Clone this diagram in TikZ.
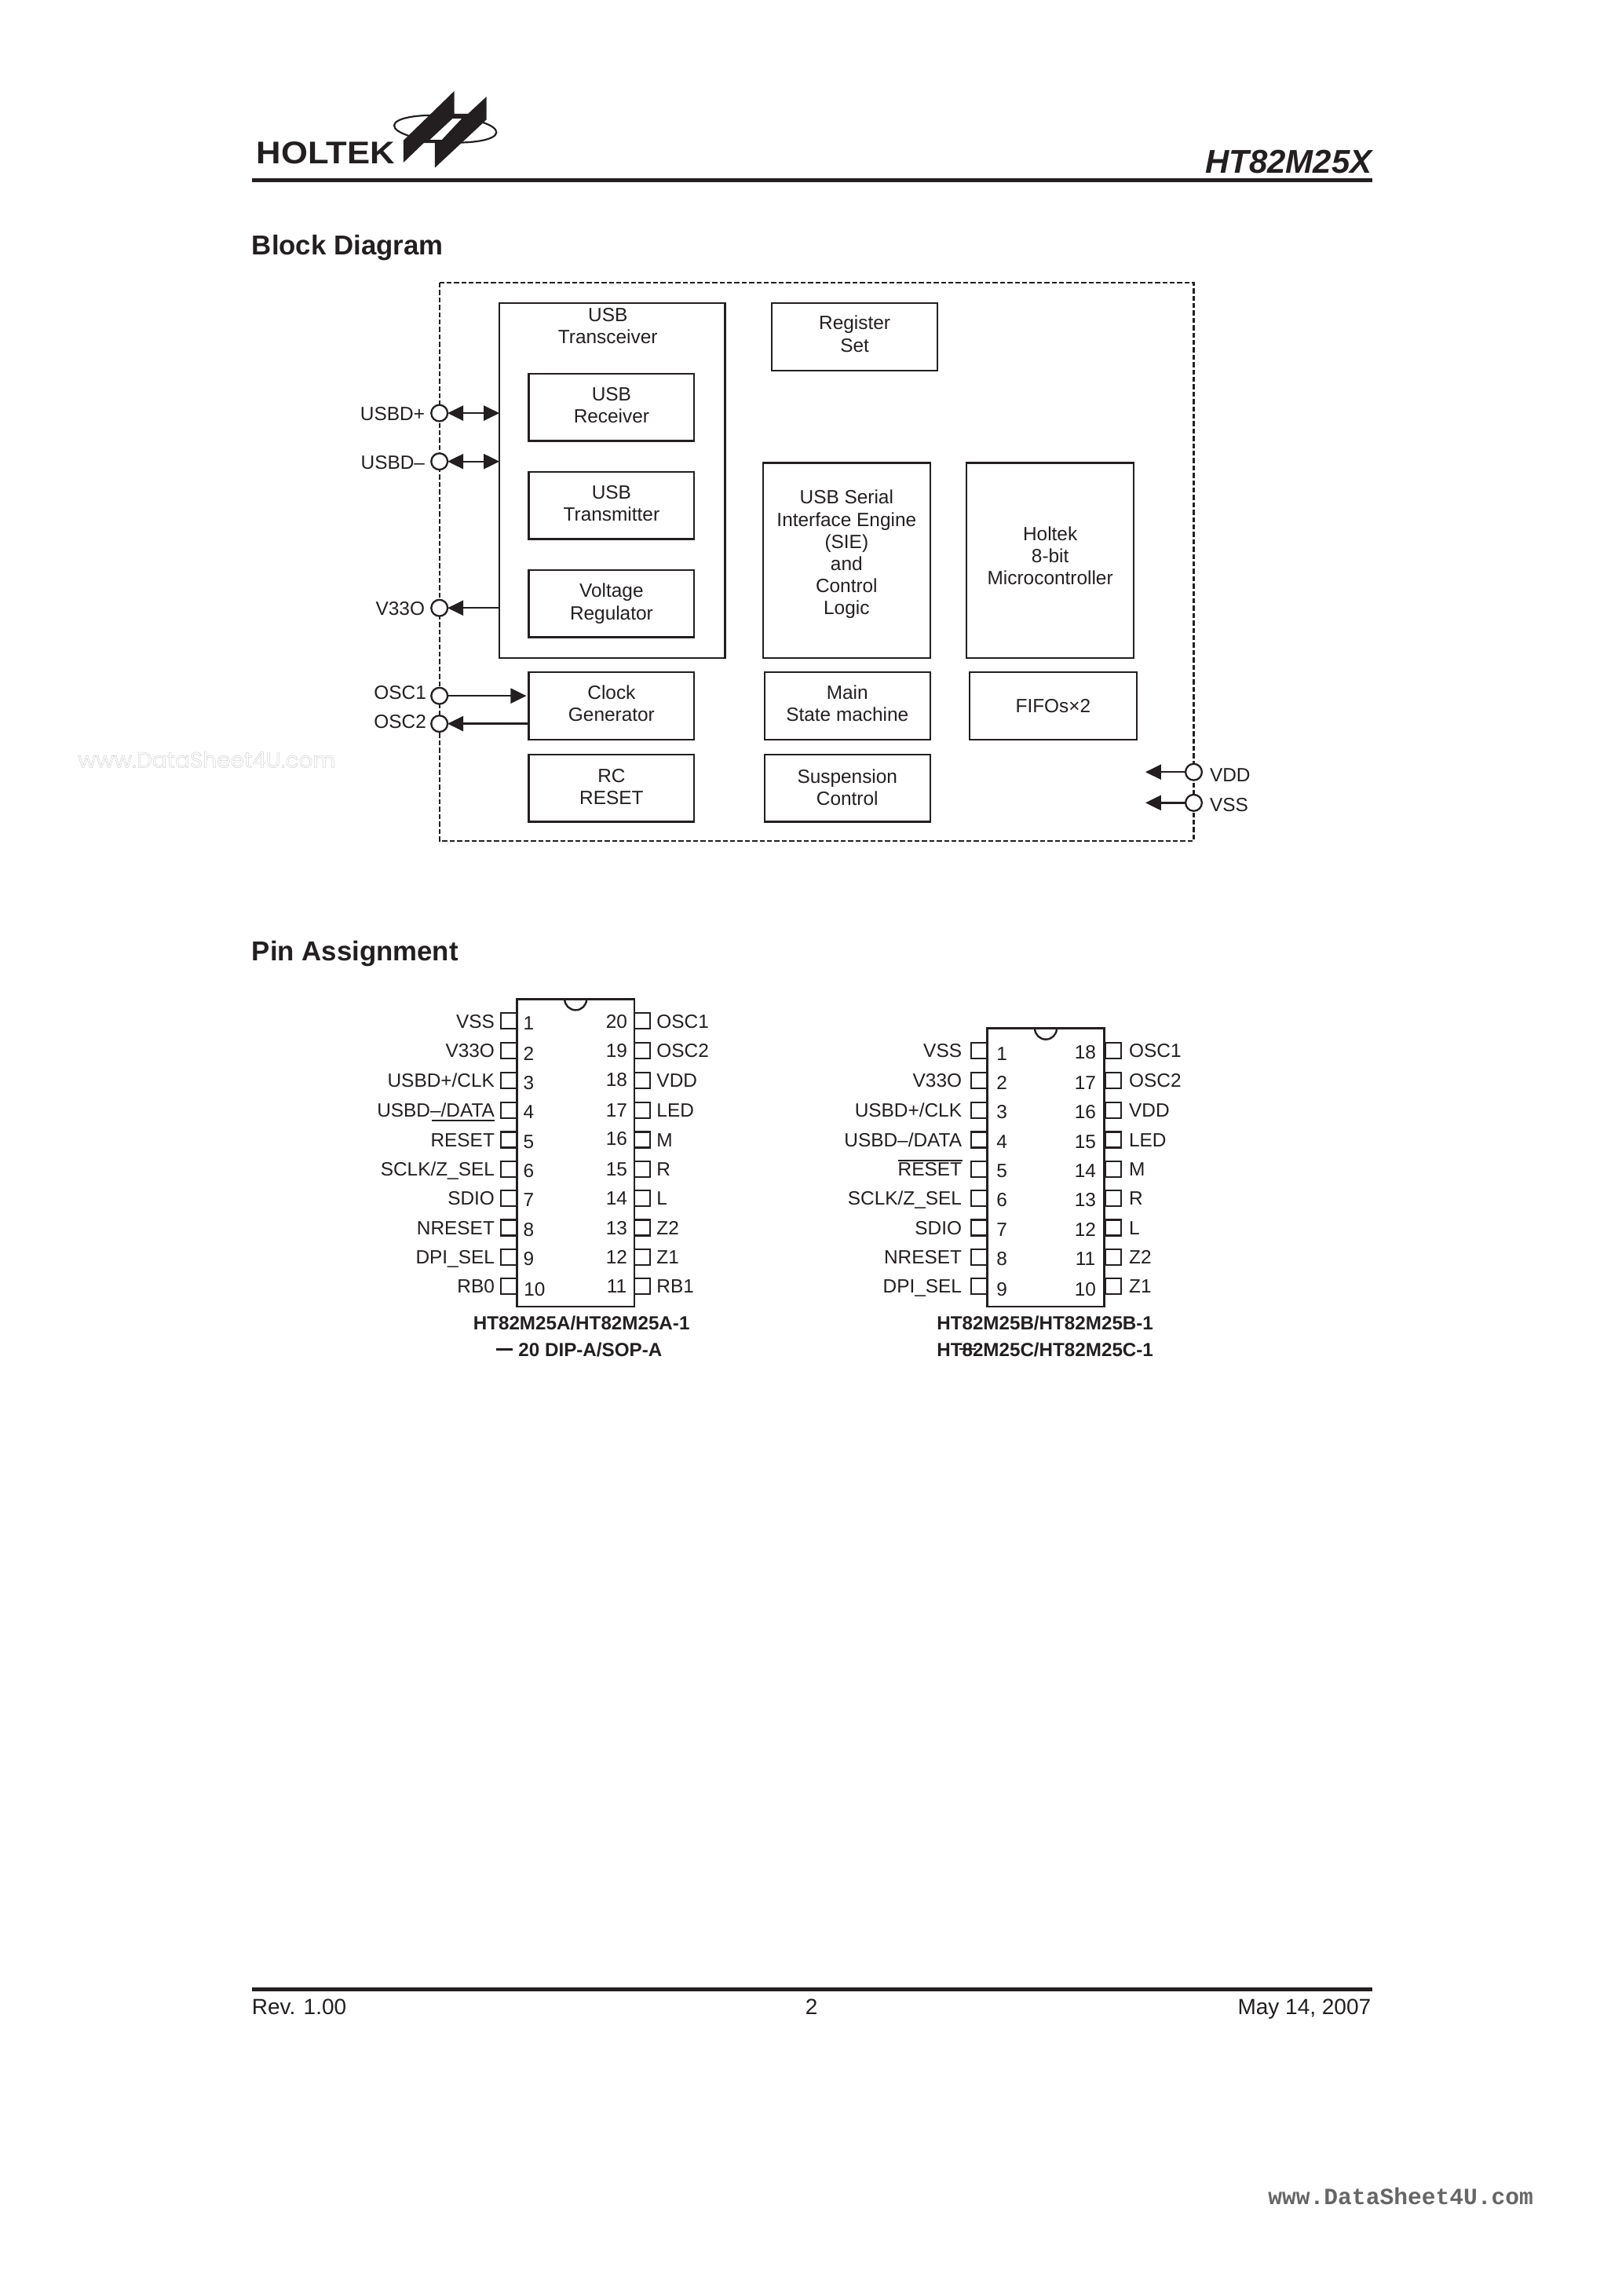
\documentclass[tikz,border=0pt]{standalone}
\usepackage{fontspec}
\setmainfont{Liberation Sans}
\newfontfamily\wmfont{Poppins}
\newfontfamily\wmmono{Liberation Mono}
\newfontfamily\logofont[FakeStretch=1.09]{Liberation Sans}
\usetikzlibrary{arrows.meta,calc}
\definecolor{ink}{HTML}{231F20}
\newlength{\boxw}\newlength{\boxh}
% \blk[text shift]{name}{x1}{y1}{x2}{y2}{text}
\newcommand{\blk}[6][0]{%
  \pgfmathsetlength{\boxw}{(#5-#3)*0.9328pt}%
  \pgfmathsetlength{\boxh}{(#6-#4)*0.9328pt}%
  \node[blockbox,minimum width=\boxw,minimum height=\boxh] (#2) at ({(#3+#5)/2},{(#4+#6)/2}) {};}
\newcommand{\blktxt}[3][0]{\node[blocktext] (#2t) at ($(#2.center)+(0,#1)$) {#3};}
\newcommand{\labgap}{4.5}
\newcommand{\pinL}[4]{% name, centre x, y, text
  \node[pinbox] (#1) at (#2,#3) {};
  \node[lbl,anchor=east] (#1t) at ($(#1.west)+(-\labgap,0)$) {#4};}
\newcommand{\pinR}[4]{%
  \node[pinbox] (#1) at (#2,#3) {};
  \node[lbl,anchor=west] (#1t) at ($(#1.east)+(\labgap,0)$) {#4};}
\tikzset{
  x=0.9328pt,y=-0.9328pt,
  every node/.style={text=ink},
  blockbox/.style={draw=ink,line width=1.15pt,inner sep=0pt,outer sep=0pt},
  blocktext/.style={inner sep=0pt,outer sep=0pt,align=center,font=\fontsize{12.2pt}{14.1pt}\selectfont},
  lbl/.style={inner sep=0pt,outer sep=0pt,text height=8.8pt,text depth=0pt,font=\fontsize{12.2pt}{14.1pt}\selectfont},
  numlbl/.style={inner sep=0pt,outer sep=0pt,text height=8.8pt,text depth=0pt,font=\fontsize{12.2pt}{14.1pt}\selectfont},
  captxt/.style={inner sep=0pt,outer sep=0pt,text height=8.8pt,text depth=0pt,font=\bfseries\fontsize{12.1pt}{14.1pt}\selectfont},
  hdg/.style={inner sep=0pt,outer sep=0pt,anchor=base west,font=\bfseries\fontsize{17.4pt}{20pt}\selectfont},
  foot/.style={inner sep=0pt,outer sep=0pt,anchor=base,font=\fontsize{14pt}{16pt}\selectfont},
  pincirc/.style={circle,draw=ink,fill=white,line width=1.15pt,minimum size=10.4pt,inner sep=0pt,outer sep=0pt},
  pinbox/.style={rectangle,draw=ink,line width=1.1pt,minimum size=10pt,inner sep=0pt,outer sep=0pt},
  conn/.style={draw=ink,line width=1.15pt},
  hrule/.style={draw=ink,line width=2.7pt},
  dblhead/.style={{Triangle[length=10pt,width=9.5pt]}-{Triangle[length=10pt,width=9.5pt]}},
  onehead/.style={-{Triangle[length=10pt,width=9.5pt]}},
}
\begin{document}
\begin{tikzpicture}
\useasboundingbox (0,0) rectangle (1107.4,1567.3);
% ---------- header
\coordinate (hrL) at (172,123);
\coordinate (hrR) at (937,123);
\draw[hrule] (hrL) -- (hrR);
\draw[ink,line width=1.1pt,rotate around={-4:(304,88)}] (304,88) ellipse [x radius=35,y radius=9];
\fill[ink,even odd rule]
  (310.2,62.1) -- (310.2,77.7) -- (319.5,77.7) -- (332.1,66) -- (332.1,81.7) -- (296.9,114.5)
  -- (296.9,97.6) -- (289.3,97.6) -- (275.5,110.9) -- (275.5,95.8) -- cycle
  (309.1,80.8) -- (315.4,80.8) -- (301.6,95.5) -- (293.3,95.5) -- cycle;
\node[inner sep=0pt,anchor=base west,font=\logofont\bfseries\fontsize{20pt}{24pt}\selectfont] (logo) at (175,112) {HOLTEK};
\node[inner sep=0pt,anchor=base east,font=\bfseries\itshape\fontsize{21pt}{24pt}\selectfont] (part) at (937,118) {HT82M25X};
\node[hdg] (h1) at (172,174) {Block Diagram};
\node[hdg] (h2) at (172,656) {Pin Assignment};
% ---------- block diagram
\coordinate (oTL) at (300,193);
\coordinate (oBR) at (815,574);
\draw[ink,line width=1.1pt,dash pattern=on 3.2pt off 1.5pt] (oTL) rectangle (oBR);
\blk{tr}{341}{207}{495}{449}
\node[blocktext,anchor=north] (trt) at (415,210.5) {USB\\Transceiver};
\blk{reg}{527}{207}{640}{253}  \blktxt[-2]{reg}{Register\\Set}
\blk{rx}{361}{255}{474}{301}   \blktxt[-1.2]{rx}{USB\\Receiver}
\blk{tx}{361}{322}{474}{368}   \blktxt[-1.2]{tx}{USB\\Transmitter}
\blk{vr}{361}{389}{474}{435}   \blktxt{vr}{Voltage\\Regulator}
\blk{sie}{521}{316}{635}{449}  \blktxt[-4]{sie}{USB Serial\\Interface Engine\\(SIE)\\and\\Control\\Logic}
\blk{mcu}{660}{316}{774}{449}  \blktxt[-3]{mcu}{Holtek\\8-bit\\Microcontroller}
\blk{clk}{361}{459}{474}{505}  \blktxt[-2]{clk}{Clock\\Generator}
\blk{fsm}{522}{459}{635}{505}  \blktxt[-2]{fsm}{Main\\State machine}
\blk{fifo}{662}{459}{776}{505} \blktxt{fifo}{FIFOs×2}
\blk{rc}{361}{515}{474}{561}   \blktxt[-1]{rc}{RC\\RESET}
\blk{sus}{522}{515}{635}{561}  \blktxt[-0.5]{sus}{Suspension\\Control}
\node[pincirc] (pDP) at (300,282) {};
\node[pincirc] (pDM) at (300,315) {};
\node[pincirc] (pV33) at (300,415) {};
\node[pincirc] (pO1) at (300,475) {};
\node[pincirc] (pO2) at (300,494) {};
\node[pincirc] (pVDD) at (815,527) {};
\node[pincirc] (pVSS) at (815,548) {};
\coordinate (endVDD) at (782,527);
\coordinate (endVSS) at (782,548);
\node[lbl,anchor=east] (lDP) at (290,282.5) {USBD+};
\node[lbl,anchor=east] (lDM) at (290,315.5) {USBD–};
\node[lbl,anchor=east] (lV33) at (290,415.5) {V33O};
\node[lbl,anchor=east] (lO1) at (291,472.5) {OSC1};
\node[lbl,anchor=east] (lO2) at (291,492.5) {OSC2};
\node[lbl,anchor=west] (lVDD) at (826,529) {VDD};
\node[lbl,anchor=west] (lVSS) at (826,549) {VSS};
\draw[conn,dblhead] (pDP) -- (pDP -| tr.west);
\draw[conn,dblhead] (pDM) -- (pDM -| tr.west);
\draw[conn,onehead] (pV33 -| tr.west) -- (pV33);
\draw[conn,onehead,shorten >=1.5pt] (pO1) -- (pO1 -| clk.west);
\draw[conn,onehead] (pO2 -| clk.west) -- (pO2);
\draw[conn,onehead] (pVDD) -- (endVDD);
\draw[conn,onehead] (pVSS) -- (endVSS);
% ---------- chip A
\pinL{aL1}{347.5}{697}{VSS}
\pinL{aL2}{347.5}{717}{V33O}
\pinL{aL3}{347.5}{737.5}{USBD+/CLK}
\pinL{aL4}{347.5}{758}{USBD–/DATA}
\pinL{aL5}{347.5}{778}{RESET}
\pinL{aL6}{347.5}{798}{SCLK/Z\_SEL}
\pinL{aL7}{347.5}{818}{SDIO}
\pinL{aL8}{347.5}{838}{NRESET}
\pinL{aL9}{347.5}{858}{DPI\_SEL}
\pinL{aL10}{347.5}{878}{RB0}
\pinR{aR20}{438.5}{697}{OSC1}
\pinR{aR19}{438.5}{717}{OSC2}
\pinR{aR18}{438.5}{737.5}{VDD}
\pinR{aR17}{438.5}{758}{LED}
\pinR{aR16}{438.5}{778}{M}
\pinR{aR15}{438.5}{798}{R}
\pinR{aR14}{438.5}{818}{L}
\pinR{aR13}{438.5}{838}{Z2}
\pinR{aR12}{438.5}{858}{Z1}
\pinR{aR11}{438.5}{878}{RB1}
\coordinate (aTL) at (353,682);
\coordinate (aBR) at (433,892);
\draw[ink,line width=1.3pt,fill=white] (aTL) rectangle (aBR);
\draw[ink,line width=1.2pt] (385.5,682) arc[start angle=180,end angle=0,radius=7.5];
\foreach \n/\xx/\yy in {1/361/698,2/361/719,3/361/739,4/361/759,5/361/779,6/361/799,7/361/819,8/361/839,9/361/859,10/365/880,
  20/421/697,19/421/717,18/421/737,17/421/758,16/421/777,15/421/798,14/421/818,13/421/838,12/421/858,11/421/878}
  \node[numlbl] (aN\n) at (\xx,\yy) {\n};
\draw[ink,line width=1.1pt] (295,765) -- (337.5,765);
\node[captxt] (capA1) at (397,903) {HT82M25A/HT82M25A-1};
\node[captxt,anchor=west] (capA2) at (354,921) {20 DIP-A/SOP-A};
\coordinate (dashAa) at (339,921);
\coordinate (dashAb) at (350,921);
\draw[ink,line width=1.7pt] (dashAa) -- (dashAb);
% ---------- chip B
\renewcommand{\labgap}{6.5}
\pinL{bL1}{668.5}{717}{VSS}
\pinL{bL2}{668.5}{737.5}{V33O}
\pinL{bL3}{668.5}{758}{USBD+/CLK}
\pinL{bL4}{668.5}{778}{USBD–/DATA}
\pinL{bL5}{668.5}{798}{RESET}
\pinL{bL6}{668.5}{818}{SCLK/Z\_SEL}
\pinL{bL7}{668.5}{838}{SDIO}
\pinL{bL8}{668.5}{858}{NRESET}
\pinL{bL9}{668.5}{878}{DPI\_SEL}
\renewcommand{\labgap}{5.5}
\pinR{bR18}{760}{717}{OSC1}
\pinR{bR17}{760}{737.5}{OSC2}
\pinR{bR16}{760}{758}{VDD}
\pinR{bR15}{760}{778}{LED}
\pinR{bR14}{760}{798}{M}
\pinR{bR13}{760}{818}{R}
\pinR{bR12}{760}{838}{L}
\pinR{bR11}{760}{858}{Z2}
\pinR{bR10}{760}{878}{Z1}
\coordinate (bTL) at (674,702);
\coordinate (bBR) at (754,892);
\draw[ink,line width=1.3pt,fill=white] (bTL) rectangle (bBR);
\draw[ink,line width=1.2pt] (706.5,702) arc[start angle=180,end angle=0,radius=7.5];
\foreach \n/\xx/\yy in {1/684/719,2/684/739,3/684/759,4/684/779,5/684/799,6/684/819,7/684/839,8/684/859,9/684/880,
  18/741/718,17/741/739,16/741/759,15/741/779,14/741/799,13/741/819,12/741/839,11/741/859,10/741/880}
  \node[numlbl] (bN\n) at (\xx,\yy) {\n};
\draw[ink,line width=1.1pt] (613,792) -- (657,792);
\node[captxt] (capB1) at (713.5,903) {HT82M25B/HT82M25B-1};
\node[captxt] (capB2) at (713.5,921) {HT82M25C/HT82M25C-1};
\coordinate (dashBa) at (655,921);
\coordinate (dashBb) at (666,921);
\draw[ink,line width=1.2pt] (dashBa) -- (dashBb);
% ---------- footer
\coordinate (frL) at (172,1358);
\coordinate (frR) at (937,1358);
\draw[hrule] (frL) -- (frR);
\node[foot,anchor=base west] (f1) at (172,1375) {Rev. 1.00};
\node[foot] (f2) at (554,1375) {2};
\node[foot,anchor=base east] (f3) at (936,1375) {May 14, 2007};
% ---------- watermarks
\node[inner sep=0pt,anchor=base west,font=\wmfont\fontsize{14pt}{16pt}\selectfont,text=black!32] (wm1) at (53,524) {\special{pdf:code 1 Tr 0.12 w}www.DataSheet4U.com\special{pdf:code 0 Tr}};
\node[inner sep=0pt,anchor=base east,font=\wmmono\bfseries\fontsize{14.8pt}{18pt}\selectfont,text=black!60] (wm2) at (1047,1505) {www.DataSheet4U.com};
\end{tikzpicture}
\end{document}
